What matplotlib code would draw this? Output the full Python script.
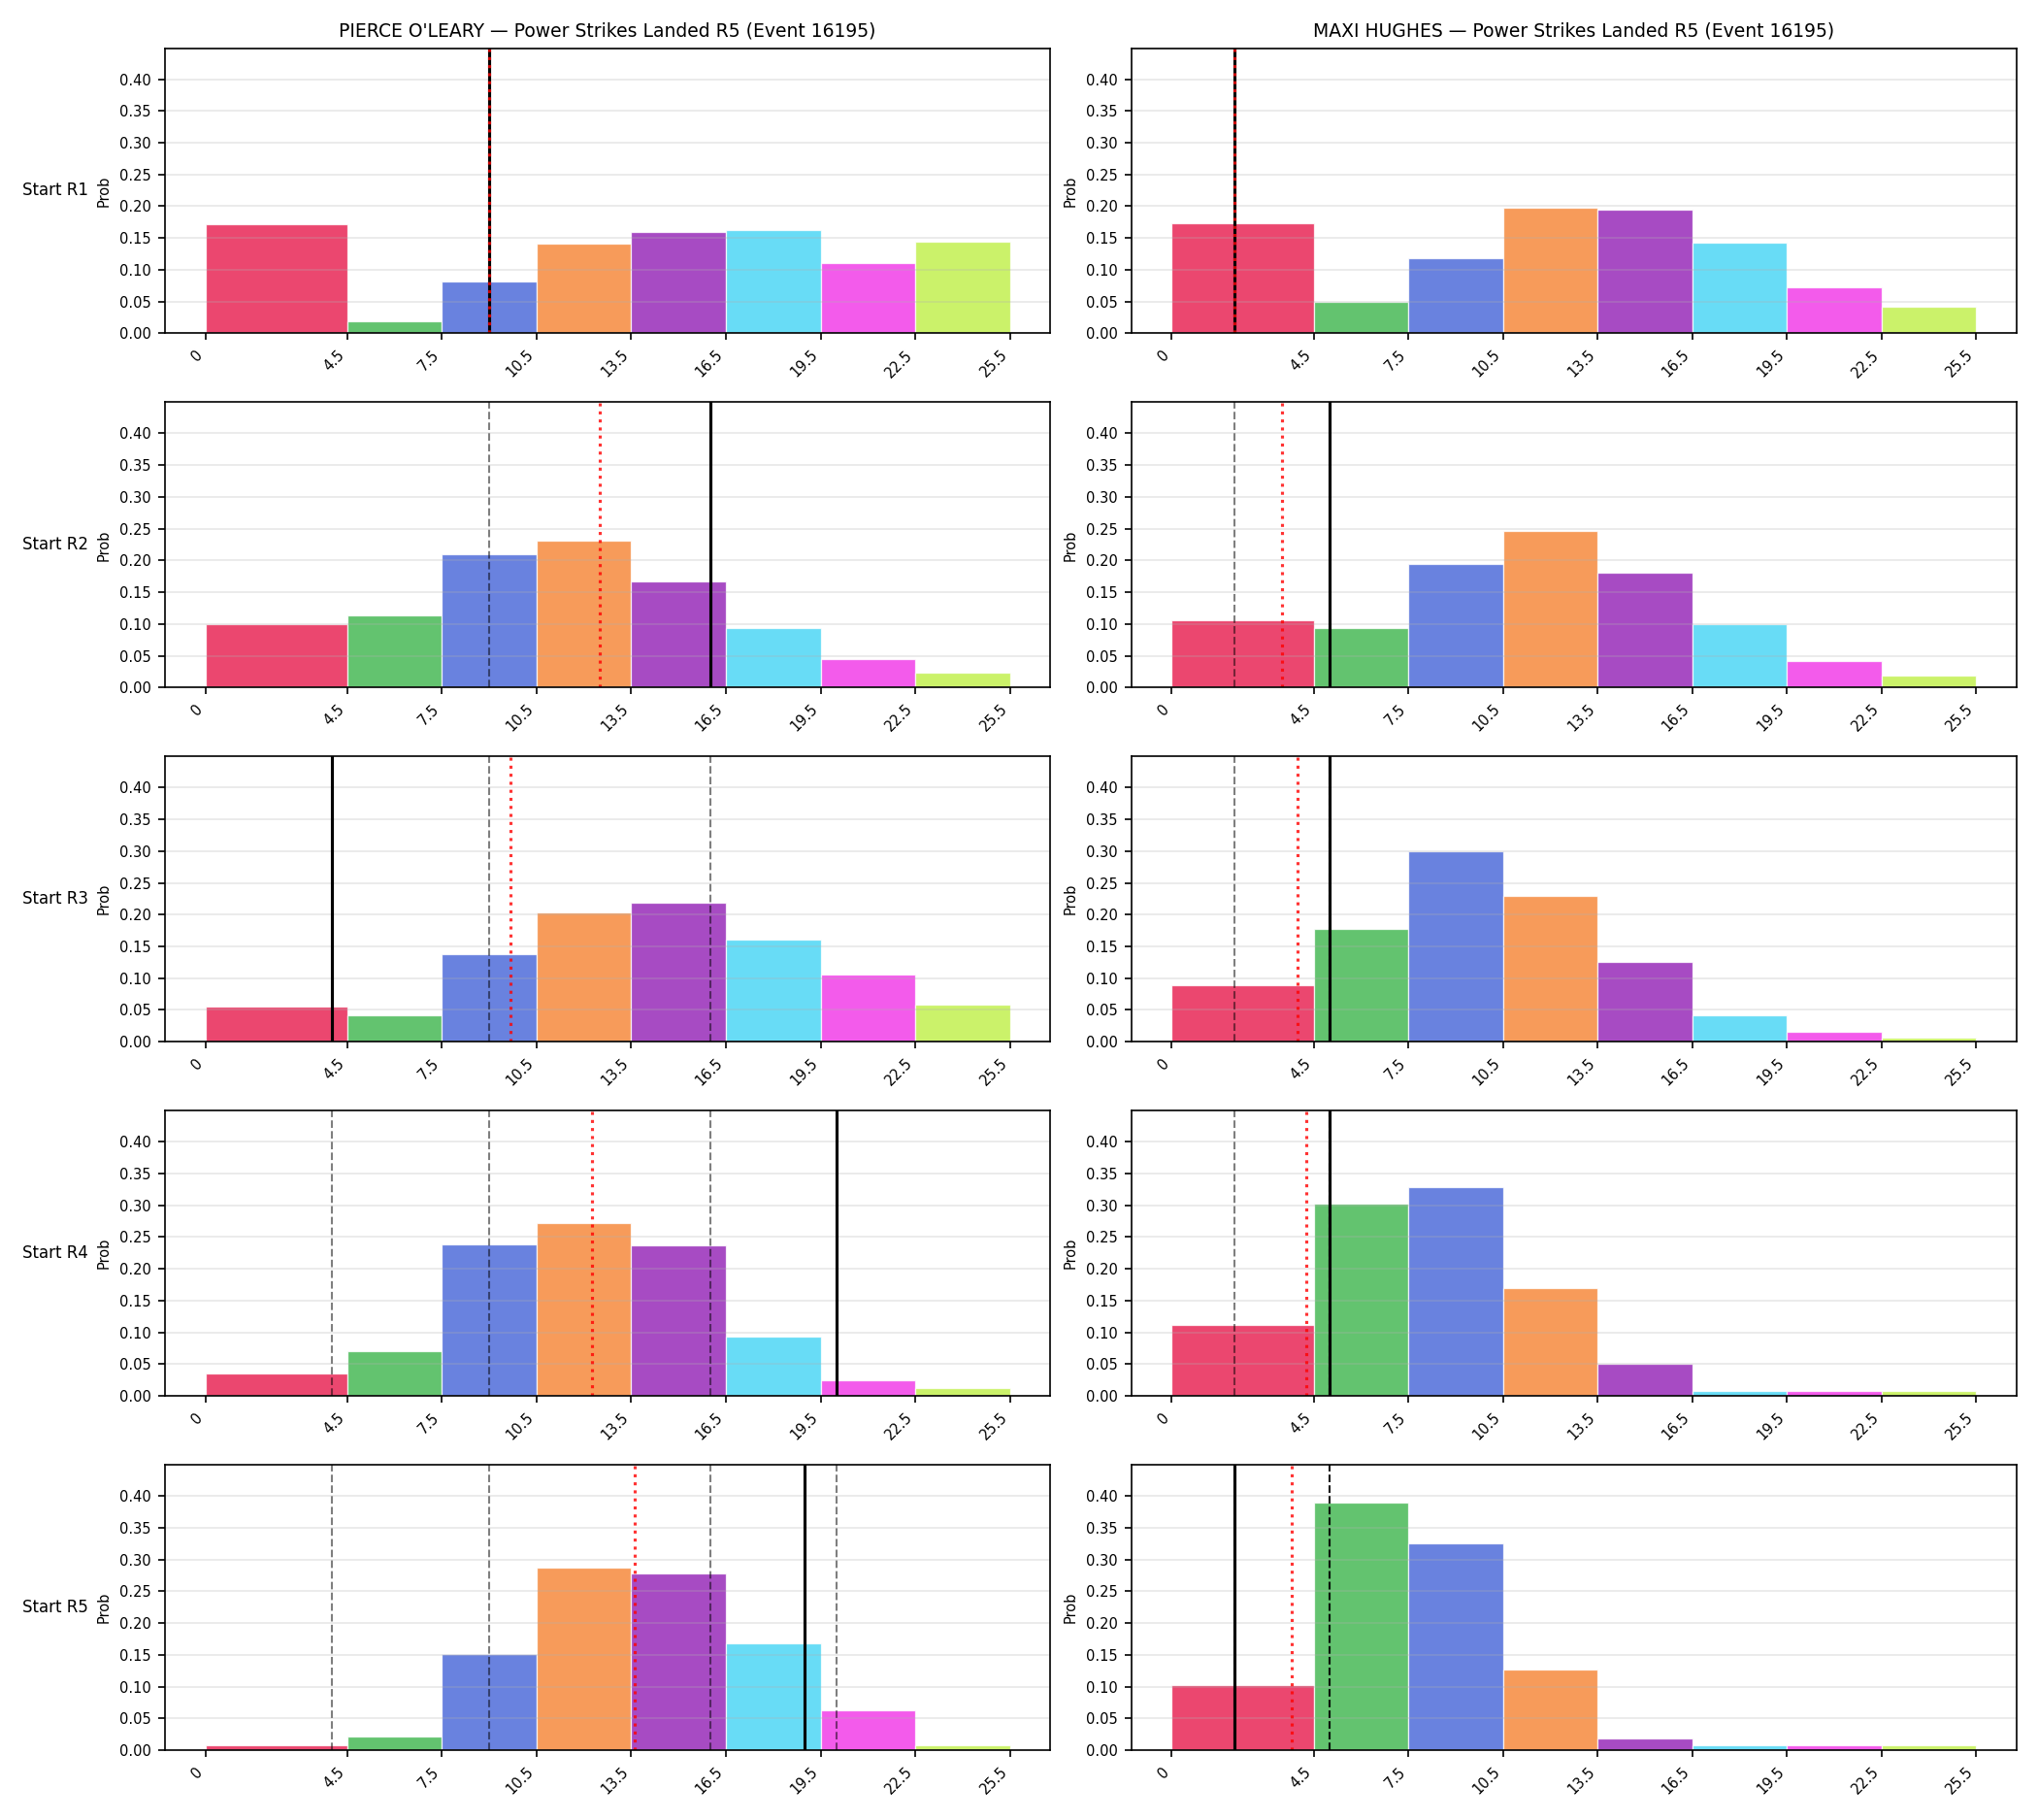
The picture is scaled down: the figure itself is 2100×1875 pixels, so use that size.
import numpy as np
import matplotlib
matplotlib.use("Agg")
import matplotlib.pyplot as plt

# ---- data ----
bin_edges = [0, 4.5, 7.5, 10.5, 13.5, 16.5, 19.5, 22.5, 25.5]
tick_labels = ["0", "4.5", "7.5", "10.5", "13.5", "16.5", "19.5", "22.5", "25.5"]
bar_colors = ["#e6194b", "#3cb44b", "#4363d8", "#f58231",
              "#911eb4", "#42d4f4", "#f032e6", "#bfef45"]
row_labels = ["Start R1", "Start R2", "Start R3", "Start R4", "Start R5"]
fighters = ["PIERCE O'LEARY", "MAXI HUGHES"]

pierce_probs = [
    [0.171, 0.019, 0.081, 0.141, 0.159, 0.162, 0.110, 0.144],
    [0.100, 0.114, 0.209, 0.231, 0.167, 0.094, 0.045, 0.024],
    [0.056, 0.041, 0.138, 0.203, 0.219, 0.161, 0.105, 0.059],
    [0.036, 0.071, 0.238, 0.272, 0.237, 0.094, 0.024, 0.012],
    [0.007, 0.021, 0.151, 0.287, 0.278, 0.168, 0.062, 0.007],
]
maxi_probs = [
    [0.173, 0.050, 0.118, 0.197, 0.194, 0.142, 0.072, 0.041],
    [0.106, 0.094, 0.194, 0.246, 0.180, 0.100, 0.042, 0.019],
    [0.089, 0.177, 0.300, 0.229, 0.125, 0.041, 0.016, 0.007],
    [0.111, 0.302, 0.329, 0.170, 0.050, 0.007, 0.007, 0.007],
    [0.102, 0.389, 0.326, 0.127, 0.018, 0.007, 0.007, 0.007],
]
# actual landed per round (solid line = current, dashed = earlier rounds)
pierce_actual = [9, 16, 4, 20, 19]
maxi_actual = [2, 5, 5, 5, 2]
# running average (red dotted)
pierce_avg = [9.0, 12.5, 9.67, 12.25, 13.6]
maxi_avg = [2.0, 3.5, 4.0, 4.25, 3.8]

probs = [pierce_probs, maxi_probs]
actuals = [pierce_actual, maxi_actual]
avgs = [pierce_avg, maxi_avg]

fig, axes = plt.subplots(5, 2, figsize=(14, 12.5), dpi=150)
fig.subplots_adjust(left=0.081, right=0.9895, top=0.9736, bottom=0.0384,
                    wspace=0.092, hspace=0.242)

edges = np.array(bin_edges)
widths = np.diff(edges)

for c in range(2):
    for r in range(5):
        ax = axes[r, c]
        ax.bar(edges[:-1], probs[c][r], width=widths, align="edge",
               color=bar_colors, alpha=0.8, edgecolor="white", linewidth=0.6)
        for k in range(r):
            ax.axvline(actuals[c][k], color="black", linestyle="--",
                       linewidth=1, alpha=0.5)
        ax.axvline(actuals[c][r], color="black", linewidth=1.5)
        ax.axvline(avgs[c][r], color="red", linestyle=":", linewidth=1.5,
                   alpha=0.8)
        ax.set_ylim(0, 0.449)
        ax.set_yticks(np.arange(0, 0.41, 0.05))
        ax.set_xticks(edges)
        ax.set_xticklabels(tick_labels, rotation=45, ha="right")
        ax.tick_params(labelsize=7)
        ax.grid(axis="y", alpha=0.3)
        ax.set_ylabel("Prob", fontsize=7)
        if r == 0:
            ax.set_title(f"{fighters[c]} — Power Strikes Landed R5 (Event 16195)",
                         fontsize=9)
        if c == 0:
            ax.text(-0.087, 0.5, row_labels[r], transform=ax.transAxes,
                    ha="right", va="center", fontsize=8)

fig.savefig("out.png", dpi=150)
